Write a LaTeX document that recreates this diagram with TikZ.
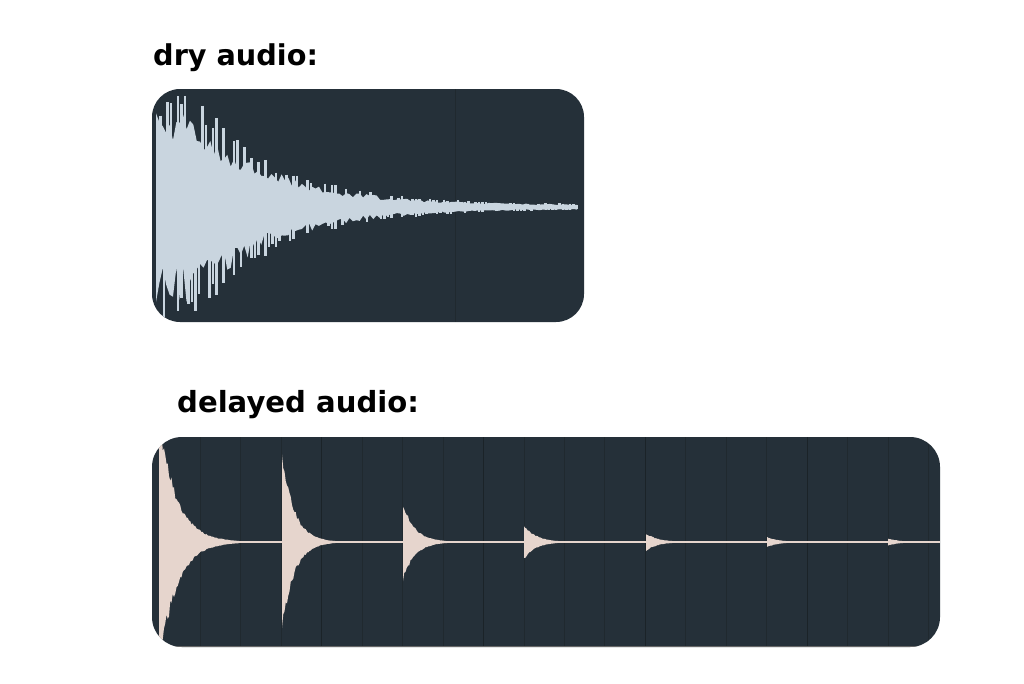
\documentclass[tikz,border=0pt]{standalone}
\usepackage{fontspec}
\setmainfont{DejaVu Sans}
\definecolor{panel}{HTML}{253039}
\definecolor{gridc}{HTML}{20292F}
\definecolor{gridd}{HTML}{1B2328}
\definecolor{dryc}{HTML}{C9D5DF}
\definecolor{wetc}{HTML}{E6D5CD}
\begin{document}
\begin{tikzpicture}[x=1pt,y=-1pt,
  declare function={dryenv(\t)=114*exp(-max(0,\t-195)/80)+2.5;},
  title/.style={font=\bfseries, anchor=base west, inner sep=0pt},
  drypanel/.style={fill=panel, rounded corners=28pt},
  wetpanel/.style={fill=panel, rounded corners=30pt},
  gridline/.style={draw=gridc, line width=1pt},
  gridmajor/.style={draw=gridd, line width=1.2pt},
  spike/.style={draw=dryc, line width=2.2pt}]
\useasboundingbox[fill=white] (0,0) rectangle (1024,683);
\node[title, font=\bfseries\fontsize{28.7}{34}\selectfont] (drytitle) at (153,65) {dry audio:};
\node[title, font=\bfseries\fontsize{29.1}{34}\selectfont] (wettitle) at (177,412) {delayed audio:};
% dry panel
\path[drypanel] (152,89) rectangle (584,322);
\begin{scope}
  \clip[rounded corners=28pt] (152,89) rectangle (584,322);
  \path[gridline] (455,89) -- (455,322);
  \pgfmathsetseed{11}
  \fill[dryc] plot[variable=\t, domain=156:577, samples=125] ({\t}, {207-dryenv(\t)*(0.52+0.3*rnd)})
    -- plot[variable=\t, domain=577:156, samples=125] ({\t}, {207+dryenv(\t)*(0.52+0.3*rnd)}) -- cycle;
  \foreach \t in {157,160.5,...,577} {
    \pgfmathsetmacro{\A}{dryenv(\t)}
    \pgfmathsetmacro{\u}{\A*ifthenelse(rnd>0.5, 0.78+0.22*rnd, 0.5)}
    \pgfmathsetmacro{\d}{\A*ifthenelse(rnd>0.5, 0.78+0.22*rnd, 0.5)}
    \path[spike] (\t, 207-\u) -- (\t, 207+\d);
  }
\end{scope}
% delayed panel
\path[wetpanel] (152,437) rectangle (940,647);
\begin{scope}
  \clip[rounded corners=30pt] (152,437) rectangle (940,647);
  \foreach \k in {1,...,19} { \path[gridline] ({160+40.45*\k},437) -- ++(0,210); }
  \foreach \k in {4,8,12,16} { \path[gridmajor] ({160+40.45*\k},437) -- ++(0,210); }
  \draw[black!60, line width=1.2pt] (152,646.5) -- (940,646.5);
  \draw[wetc, line width=1.6pt] (160,542) -- (940,542);
  \pgfmathsetseed{5}
  \foreach \p/\a/\tau in {159/125/17, 282/87/12, 403/37/12, 524/17/12, 646/8.5/12, 767/5/12, 888/3.5/12} {
    \fill[wetc] (\p,542) -- plot[variable=\t, domain=0:80, samples=65] ({\p+\t}, {542-\a*exp(-\t/\tau)*(0.9+0.18*rnd)})
      -- plot[variable=\t, domain=80:0, samples=65] ({\p+\t}, {542+\a*exp(-\t/\tau)*(0.9+0.18*rnd)}) -- cycle;
  }
\end{scope}
\end{tikzpicture}
\end{document}
